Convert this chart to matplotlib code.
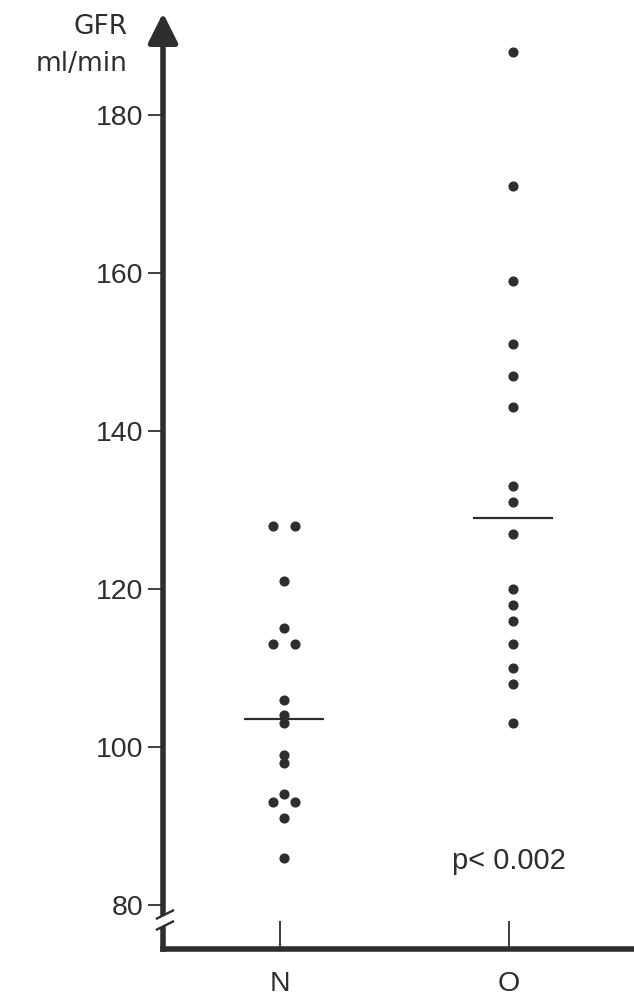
import matplotlib
matplotlib.use('Agg')
import matplotlib.pyplot as plt

plt.rcParams['font.family'] = ['Liberation Sans', 'DejaVu Sans']

# GFR values (ml/min) per group
groups = ['N', 'O']
gfr_n = [128, 128, 121, 115, 113, 113, 106, 104, 103, 99, 98, 94, 93, 93, 91, 86]
gfr_o = [188, 171, 159, 151, 147, 143, 133, 131, 127, 120, 118, 116, 113, 110, 108, 103]
medians = [103.5, 129]
p_text = 'p< 0.002'
yticks = [80, 100, 120, 140, 160, 180]

ink = '#2e2e2e'

fig = plt.figure(figsize=(6.34, 9.96), dpi=100)
ax = fig.add_axes([163 / 634, 47 / 996, 471 / 634, 936 / 996])
ax.set_xlim(0.489, 2.546)
ax.set_ylim(74.43, 192.91)

for spine in ['top', 'right']:
    ax.spines[spine].set_visible(False)
for spine in ['left', 'bottom']:
    ax.spines[spine].set_linewidth(4)
    ax.spines[spine].set_color(ink)
ax.spines['left'].set_bounds(74.43, 190)

# dots: tied values in N are drawn side by side, the rest on the group centre
shift = 0.018
for i, vals in enumerate([gfr_n, gfr_o]):
    xc = i + 1 + shift
    xs = []
    for k, v in enumerate(vals):
        if i == 0 and vals.count(v) == 2:
            xs.append(xc - 0.048 if vals.index(v) == k else xc + 0.048)
        else:
            xs.append(xc)
    ax.plot(xs, vals, 'o', ms=6.3, color=ink, mec=ink, zorder=3)
    ax.plot([xc - 0.17, xc + 0.17], [medians[i], medians[i]], color=ink, lw=1.6, zorder=2)

ax.set_yticks(yticks)
ax.set_yticklabels([str(t) for t in yticks])
ax.tick_params(axis='y', direction='out', length=11, width=1.3, color=ink,
               labelsize=20.5, labelcolor=ink, pad=3)
ax.set_xticks([1, 2])
ax.set_xticklabels(groups)
ax.tick_params(axis='x', direction='in', length=20, width=1.3, color=ink,
               labelsize=20.5, labelcolor=ink, pad=16)

# arrow head on top of the y axis
ax.annotate('', xy=(0, 1.0), xytext=(0, 0.97), xycoords='axes fraction',
            arrowprops=dict(arrowstyle='-|>,head_length=1.0,head_width=0.5',
                            mutation_scale=18, lw=4, color=ink,
                            shrinkA=0, shrinkB=0),
            annotation_clip=False)

# axis break just below 80
px_x, px_y = 1 / 471, 1 / 936
yb = 29 * px_y
x0, x1 = -6 * px_x, 10 * px_x
ax.plot([x0, x1], [yb - 4 * px_y, yb + 4 * px_y], color='white', lw=7,
        transform=ax.transAxes, clip_on=False, zorder=5, solid_capstyle='butt')
for d in (-5.5, 5.5):
    ax.plot([x0, x1], [yb + (d - 4) * px_y, yb + (d + 4) * px_y], color=ink,
            lw=1.7, transform=ax.transAxes, clip_on=False, zorder=6)

fig.text(128 / 634, 1 - 27 / 996, 'GFR', ha='right', va='center', fontsize=19,
         color=ink, family=['DejaVu Sans'])
fig.text(128 / 634, 1 - 64 / 996, 'ml/min', ha='right', va='center', fontsize=19,
         color=ink, family=['DejaVu Sans'])

ax.text(2.0, 85.6, p_text, ha='center', va='center', fontsize=21, color=ink)

fig.savefig('out.png', dpi=100)
